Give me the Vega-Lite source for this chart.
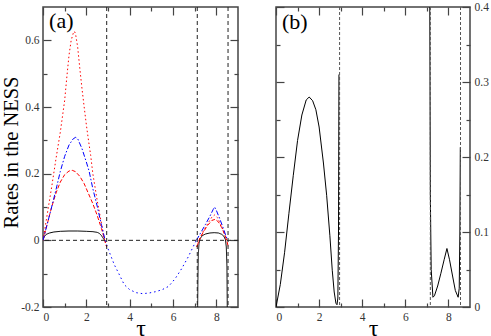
{
  "$schema": "https://vega.github.io/schema/vega-lite/v6.json",
  "padding": {"left": 0, "top": 0, "right": 0, "bottom": 0},
  "spacing": 34,
  "config": {
    "font": "Liberation Serif, Times New Roman, serif",
    "view": {"stroke": "#444", "strokeWidth": 1.5},
    "axis": {"domain": false, "grid": false, "labelFont": "Liberation Serif, Times New Roman, serif", "labelFontSize": 11.5, "labelColor": "#333", "tickColor": "#444", "tickWidth": 1.2, "titleFont": "Liberation Serif, Times New Roman, serif", "titleFontWeight": "normal", "titleColor": "#000"}
  },
  "datasets": {
    "a": [
      {"s": "black", "g": "k1", "t": 0, "v": 0}, {"s": "black", "g": "k1", "t": 0.05, "v": 0.01}, {"s": "black", "g": "k1", "t": 0.15, "v": 0.018}, {"s": "black", "g": "k1", "t": 0.3, "v": 0.022}, {"s": "black", "g": "k1", "t": 0.5, "v": 0.025}, {"s": "black", "g": "k1", "t": 0.8, "v": 0.027}, {"s": "black", "g": "k1", "t": 1.2, "v": 0.028}, {"s": "black", "g": "k1", "t": 1.6, "v": 0.028}, {"s": "black", "g": "k1", "t": 2.0, "v": 0.027}, {"s": "black", "g": "k1", "t": 2.3, "v": 0.026}, {"s": "black", "g": "k1", "t": 2.5, "v": 0.024}, {"s": "black", "g": "k1", "t": 2.6, "v": 0.021}, {"s": "black", "g": "k1", "t": 2.7, "v": 0.014}, {"s": "black", "g": "k1", "t": 2.78, "v": 0.006}, {"s": "black", "g": "k1", "t": 2.85, "v": 0},
      {"s": "black", "g": "k2", "t": 7.13, "v": -0.25}, {"s": "black", "g": "k2", "t": 7.15, "v": -0.12}, {"s": "black", "g": "k2", "t": 7.17, "v": -0.04}, {"s": "black", "g": "k2", "t": 7.2, "v": -0.01}, {"s": "black", "g": "k2", "t": 7.25, "v": 0.005}, {"s": "black", "g": "k2", "t": 7.35, "v": 0.014}, {"s": "black", "g": "k2", "t": 7.5, "v": 0.019}, {"s": "black", "g": "k2", "t": 7.7, "v": 0.022}, {"s": "black", "g": "k2", "t": 7.9, "v": 0.023}, {"s": "black", "g": "k2", "t": 8.1, "v": 0.022}, {"s": "black", "g": "k2", "t": 8.25, "v": 0.018}, {"s": "black", "g": "k2", "t": 8.35, "v": 0.012}, {"s": "black", "g": "k2", "t": 8.42, "v": 0.002}, {"s": "black", "g": "k2", "t": 8.46, "v": -0.02}, {"s": "black", "g": "k2", "t": 8.49, "v": -0.08}, {"s": "black", "g": "k2", "t": 8.51, "v": -0.25},
      {"s": "reddot", "g": "r1", "t": 0, "v": 0}, {"s": "reddot", "g": "r1", "t": 0.2, "v": 0.08}, {"s": "reddot", "g": "r1", "t": 0.4, "v": 0.16}, {"s": "reddot", "g": "r1", "t": 0.6, "v": 0.245}, {"s": "reddot", "g": "r1", "t": 0.8, "v": 0.325}, {"s": "reddot", "g": "r1", "t": 1.0, "v": 0.42}, {"s": "reddot", "g": "r1", "t": 1.1, "v": 0.49}, {"s": "reddot", "g": "r1", "t": 1.2, "v": 0.555}, {"s": "reddot", "g": "r1", "t": 1.3, "v": 0.6}, {"s": "reddot", "g": "r1", "t": 1.4, "v": 0.622}, {"s": "reddot", "g": "r1", "t": 1.45, "v": 0.627}, {"s": "reddot", "g": "r1", "t": 1.5, "v": 0.62}, {"s": "reddot", "g": "r1", "t": 1.6, "v": 0.58}, {"s": "reddot", "g": "r1", "t": 1.7, "v": 0.515}, {"s": "reddot", "g": "r1", "t": 1.8, "v": 0.455}, {"s": "reddot", "g": "r1", "t": 1.9, "v": 0.4}, {"s": "reddot", "g": "r1", "t": 2.0, "v": 0.347}, {"s": "reddot", "g": "r1", "t": 2.1, "v": 0.3}, {"s": "reddot", "g": "r1", "t": 2.2, "v": 0.255}, {"s": "reddot", "g": "r1", "t": 2.3, "v": 0.2}, {"s": "reddot", "g": "r1", "t": 2.4, "v": 0.16}, {"s": "reddot", "g": "r1", "t": 2.5, "v": 0.12}, {"s": "reddot", "g": "r1", "t": 2.6, "v": 0.085}, {"s": "reddot", "g": "r1", "t": 2.7, "v": 0.05}, {"s": "reddot", "g": "r1", "t": 2.8, "v": 0.015}, {"s": "reddot", "g": "r1", "t": 2.87, "v": -0.005}, {"s": "reddot", "g": "r1", "t": 2.94, "v": -0.02},
      {"s": "reddot", "g": "r2", "t": 7.1, "v": -0.02}, {"s": "reddot", "g": "r2", "t": 7.2, "v": 0}, {"s": "reddot", "g": "r2", "t": 7.4, "v": 0.028}, {"s": "reddot", "g": "r2", "t": 7.6, "v": 0.05}, {"s": "reddot", "g": "r2", "t": 7.8, "v": 0.07}, {"s": "reddot", "g": "r2", "t": 7.92, "v": 0.076}, {"s": "reddot", "g": "r2", "t": 8.05, "v": 0.068}, {"s": "reddot", "g": "r2", "t": 8.2, "v": 0.048}, {"s": "reddot", "g": "r2", "t": 8.35, "v": 0.025}, {"s": "reddot", "g": "r2", "t": 8.5, "v": -0.005}, {"s": "reddot", "g": "r2", "t": 8.55, "v": -0.02},
      {"s": "reddash", "g": "d1", "t": 0, "v": 0}, {"s": "reddash", "g": "d1", "t": 0.2, "v": 0.05}, {"s": "reddash", "g": "d1", "t": 0.4, "v": 0.1}, {"s": "reddash", "g": "d1", "t": 0.6, "v": 0.142}, {"s": "reddash", "g": "d1", "t": 0.8, "v": 0.175}, {"s": "reddash", "g": "d1", "t": 1.0, "v": 0.197}, {"s": "reddash", "g": "d1", "t": 1.2, "v": 0.208}, {"s": "reddash", "g": "d1", "t": 1.35, "v": 0.21}, {"s": "reddash", "g": "d1", "t": 1.5, "v": 0.206}, {"s": "reddash", "g": "d1", "t": 1.7, "v": 0.192}, {"s": "reddash", "g": "d1", "t": 1.9, "v": 0.17}, {"s": "reddash", "g": "d1", "t": 2.1, "v": 0.14}, {"s": "reddash", "g": "d1", "t": 2.3, "v": 0.11}, {"s": "reddash", "g": "d1", "t": 2.5, "v": 0.075}, {"s": "reddash", "g": "d1", "t": 2.7, "v": 0.035}, {"s": "reddash", "g": "d1", "t": 2.85, "v": 0}, {"s": "reddash", "g": "d1", "t": 2.94, "v": -0.02},
      {"s": "reddash", "g": "d2", "t": 7.1, "v": -0.02}, {"s": "reddash", "g": "d2", "t": 7.2, "v": 0}, {"s": "reddash", "g": "d2", "t": 7.4, "v": 0.025}, {"s": "reddash", "g": "d2", "t": 7.6, "v": 0.045}, {"s": "reddash", "g": "d2", "t": 7.8, "v": 0.06}, {"s": "reddash", "g": "d2", "t": 7.95, "v": 0.063}, {"s": "reddash", "g": "d2", "t": 8.1, "v": 0.055}, {"s": "reddash", "g": "d2", "t": 8.25, "v": 0.038}, {"s": "reddash", "g": "d2", "t": 8.4, "v": 0.015}, {"s": "reddash", "g": "d2", "t": 8.5, "v": -0.005}, {"s": "reddash", "g": "d2", "t": 8.55, "v": -0.02},
      {"s": "bluedd", "g": "b1", "t": 0, "v": 0}, {"s": "bluedd", "g": "b1", "t": 0.2, "v": 0.05}, {"s": "bluedd", "g": "b1", "t": 0.4, "v": 0.1}, {"s": "bluedd", "g": "b1", "t": 0.6, "v": 0.152}, {"s": "bluedd", "g": "b1", "t": 0.8, "v": 0.207}, {"s": "bluedd", "g": "b1", "t": 1.0, "v": 0.252}, {"s": "bluedd", "g": "b1", "t": 1.2, "v": 0.286}, {"s": "bluedd", "g": "b1", "t": 1.4, "v": 0.305}, {"s": "bluedd", "g": "b1", "t": 1.51, "v": 0.309}, {"s": "bluedd", "g": "b1", "t": 1.6, "v": 0.305}, {"s": "bluedd", "g": "b1", "t": 1.8, "v": 0.275}, {"s": "bluedd", "g": "b1", "t": 2.0, "v": 0.235}, {"s": "bluedd", "g": "b1", "t": 2.13, "v": 0.207}, {"s": "bluedd", "g": "b1", "t": 2.3, "v": 0.155}, {"s": "bluedd", "g": "b1", "t": 2.51, "v": 0.1}, {"s": "bluedd", "g": "b1", "t": 2.7, "v": 0.045}, {"s": "bluedd", "g": "b1", "t": 2.87, "v": 0},
      {"s": "bluedd", "g": "b2", "t": 7.08, "v": 0}, {"s": "bluedd", "g": "b2", "t": 7.3, "v": 0.025}, {"s": "bluedd", "g": "b2", "t": 7.5, "v": 0.048}, {"s": "bluedd", "g": "b2", "t": 7.7, "v": 0.072}, {"s": "bluedd", "g": "b2", "t": 7.85, "v": 0.092}, {"s": "bluedd", "g": "b2", "t": 7.92, "v": 0.1}, {"s": "bluedd", "g": "b2", "t": 8.0, "v": 0.09}, {"s": "bluedd", "g": "b2", "t": 8.15, "v": 0.066}, {"s": "bluedd", "g": "b2", "t": 8.3, "v": 0.04}, {"s": "bluedd", "g": "b2", "t": 8.45, "v": 0.012}, {"s": "bluedd", "g": "b2", "t": 8.53, "v": 0},
      {"s": "bluedot", "g": "o1", "t": 2.87, "v": 0}, {"s": "bluedot", "g": "o1", "t": 3.0, "v": -0.025}, {"s": "bluedot", "g": "o1", "t": 3.15, "v": -0.05}, {"s": "bluedot", "g": "o1", "t": 3.29, "v": -0.073}, {"s": "bluedot", "g": "o1", "t": 3.5, "v": -0.1}, {"s": "bluedot", "g": "o1", "t": 3.75, "v": -0.133}, {"s": "bluedot", "g": "o1", "t": 4.0, "v": -0.148}, {"s": "bluedot", "g": "o1", "t": 4.3, "v": -0.157}, {"s": "bluedot", "g": "o1", "t": 4.6, "v": -0.16}, {"s": "bluedot", "g": "o1", "t": 4.9, "v": -0.158}, {"s": "bluedot", "g": "o1", "t": 5.2, "v": -0.154}, {"s": "bluedot", "g": "o1", "t": 5.5, "v": -0.148}, {"s": "bluedot", "g": "o1", "t": 5.8, "v": -0.138}, {"s": "bluedot", "g": "o1", "t": 6.1, "v": -0.115}, {"s": "bluedot", "g": "o1", "t": 6.4, "v": -0.085}, {"s": "bluedot", "g": "o1", "t": 6.7, "v": -0.05}, {"s": "bluedot", "g": "o1", "t": 7.0, "v": -0.01}, {"s": "bluedot", "g": "o1", "t": 7.08, "v": 0}
    ],
    "b": [
      {"g": "k1", "t": 0, "v": 0}, {"g": "k1", "t": 0.2, "v": 0.03}, {"g": "k1", "t": 0.4, "v": 0.073}, {"g": "k1", "t": 0.6, "v": 0.125}, {"g": "k1", "t": 0.8, "v": 0.175}, {"g": "k1", "t": 1.0, "v": 0.222}, {"g": "k1", "t": 1.2, "v": 0.256}, {"g": "k1", "t": 1.4, "v": 0.276}, {"g": "k1", "t": 1.54, "v": 0.28}, {"g": "k1", "t": 1.7, "v": 0.275}, {"g": "k1", "t": 1.85, "v": 0.263}, {"g": "k1", "t": 2.0, "v": 0.24}, {"g": "k1", "t": 2.2, "v": 0.192}, {"g": "k1", "t": 2.35, "v": 0.149}, {"g": "k1", "t": 2.5, "v": 0.095}, {"g": "k1", "t": 2.61, "v": 0.049}, {"g": "k1", "t": 2.7, "v": 0.02}, {"g": "k1", "t": 2.78, "v": 0.005}, {"g": "k1", "t": 2.83, "v": 0.003}, {"g": "k1", "t": 2.87, "v": 0.012}, {"g": "k1", "t": 2.9, "v": 0.1}, {"g": "k1", "t": 2.92, "v": 0.31},
      {"g": "k2", "t": 7.13, "v": 0.45}, {"g": "k2", "t": 7.16, "v": 0.15}, {"g": "k2", "t": 7.2, "v": 0.05}, {"g": "k2", "t": 7.28, "v": 0.013}, {"g": "k2", "t": 7.35, "v": 0.015}, {"g": "k2", "t": 7.5, "v": 0.028}, {"g": "k2", "t": 7.65, "v": 0.045}, {"g": "k2", "t": 7.8, "v": 0.063}, {"g": "k2", "t": 7.93, "v": 0.078}, {"g": "k2", "t": 8.05, "v": 0.063}, {"g": "k2", "t": 8.2, "v": 0.04}, {"g": "k2", "t": 8.32, "v": 0.022}, {"g": "k2", "t": 8.45, "v": 0.013}, {"g": "k2", "t": 8.5, "v": 0.025}, {"g": "k2", "t": 8.53, "v": 0.1}, {"g": "k2", "t": 8.55, "v": 0.213}
    ],
    "va": [{"t": 2.94}, {"t": 7.12}, {"t": 8.54}],
    "vb": [{"t": 2.95}, {"t": 7.16}, {"t": 8.56}]
  },
  "hconcat": [
    {
      "width": 195,
      "height": 300,
      "resolve": {"axis": {"x": "independent", "y": "independent"}},
      "layer": [
        {
          "data": {"name": "a"},
          "mark": {"type": "line", "strokeWidth": 1, "clip": true},
          "encoding": {
            "x": {"field": "t", "type": "quantitative", "scale": {"domain": [0, 9], "nice": false},
                  "axis": {"orient": "bottom", "values": [0, 1, 2, 3, 4, 5, 6, 7, 8], "labelExpr": "datum.value % 2 == 0 ? datum.label : ''", "tickSize": {"condition": {"test": "datum.value % 2 == 0", "value": -8}, "value": -4}, "labelPadding": 12, "title": "τ", "titleFontSize": 24, "titleY": 28, "titleBaseline": "alphabetic"}},
            "y": {"field": "v", "type": "quantitative", "scale": {"domain": [-0.2, 0.7], "nice": false},
                  "axis": {"orient": "left", "values": [-0.2, -0.1, 0, 0.1, 0.2, 0.3, 0.4, 0.5, 0.6], "labelExpr": "abs(round(datum.value*10)) % 2 == 0 ? (datum.value == 0 ? '0' : (datum.value < 0 ? '-' : '') + format(abs(datum.value), '.1f')) : ''", "tickSize": {"condition": {"test": "abs(round(datum.value*10)) % 2 == 0", "value": -8}, "value": -4}, "labelPadding": 12, "title": "Rates in the NESS", "titleFontSize": 20.5, "titleX": -25.5, "titleY": 145, "titleBaseline": "alphabetic", "titleAngle": -90}},
            "color": {"field": "s", "type": "nominal", "legend": null, "scale": {"domain": ["black", "reddot", "reddash", "bluedd", "bluedot"], "range": ["#000000", "#ff0000", "#ff0000", "#0000ff", "#0000ff"]}},
            "strokeDash": {"field": "s", "type": "nominal", "legend": null, "scale": {"domain": ["black", "reddot", "reddash", "bluedd", "bluedot"], "range": [[1, 0], [1.5, 2.5], [4, 2], [5, 2, 1.5, 2], [1.5, 3]]}},
            "detail": {"field": "g"}
          }
        },
        {
          "data": {"name": "va"},
          "mark": {"type": "rule", "color": "#222", "strokeWidth": 1, "strokeDash": [4, 3]},
          "encoding": {
            "x": {"field": "t", "type": "quantitative", "axis": {"orient": "top", "values": [0, 1, 2, 3, 4, 5, 6, 7, 8], "labels": false, "title": null, "tickSize": {"condition": {"test": "datum.value % 2 == 0", "value": -8}, "value": -4}}}
          }
        },
        {
          "data": {"values": [{"v": 0}]},
          "mark": {"type": "rule", "color": "#222", "strokeWidth": 1, "strokeDash": [4, 3]},
          "encoding": {
            "y": {"field": "v", "type": "quantitative", "axis": {"orient": "right", "values": [-0.2, -0.1, 0, 0.1, 0.2, 0.3, 0.4, 0.5, 0.6], "labels": false, "title": null, "tickSize": {"condition": {"test": "abs(round(datum.value*10)) % 2 == 0", "value": -8}, "value": -4}}}
          }
        },
        {
          "data": {"values": [{"t": 0.28, "v": 0.637, "lab": "(a)"}]},
          "mark": {"type": "text", "align": "left", "baseline": "alphabetic", "fontSize": 22, "font": "Liberation Serif, Times New Roman, serif", "color": "#000"},
          "encoding": {
            "x": {"field": "t", "type": "quantitative", "axis": null},
            "y": {"field": "v", "type": "quantitative", "axis": null},
            "text": {"field": "lab"}
          }
        }
      ]
    },
    {
      "width": 194,
      "height": 300,
      "resolve": {"axis": {"x": "independent", "y": "independent"}},
      "layer": [
        {
          "data": {"name": "b"},
          "mark": {"type": "line", "strokeWidth": 1, "clip": true, "color": "#000"},
          "encoding": {
            "x": {"field": "t", "type": "quantitative", "scale": {"domain": [0, 9], "nice": false},
                  "axis": {"orient": "bottom", "values": [0, 1, 2, 3, 4, 5, 6, 7, 8], "labelExpr": "datum.value % 2 == 0 ? datum.label : ''", "tickSize": {"condition": {"test": "datum.value % 2 == 0", "value": -8}, "value": -4}, "labelPadding": 12, "title": "τ", "titleFontSize": 24, "titleY": 28, "titleBaseline": "alphabetic"}},
            "y": {"field": "v", "type": "quantitative", "scale": {"domain": [0, 0.4], "nice": false},
                  "axis": {"orient": "right", "values": [0, 0.05, 0.1, 0.15, 0.2, 0.25, 0.3, 0.35, 0.4], "labelExpr": "round(datum.value*20) % 2 == 0 ? (datum.value == 0 ? '0' : format(datum.value, '.1f')) : ''", "tickSize": {"condition": {"test": "round(datum.value*20) % 2 == 0", "value": -8}, "value": -4}, "labelPadding": 12, "title": null}},
            "detail": {"field": "g"}
          }
        },
        {
          "data": {"name": "vb"},
          "mark": {"type": "rule", "color": "#555", "strokeWidth": 1, "strokeDash": [3, 2]},
          "encoding": {
            "x": {"field": "t", "type": "quantitative", "axis": {"orient": "top", "values": [0, 1, 2, 3, 4, 5, 6, 7, 8], "labels": false, "title": null, "tickSize": {"condition": {"test": "datum.value % 2 == 0", "value": -8}, "value": -4}}}
          }
        },
        {
          "data": {"values": [{"t": 0.28, "v": 0.371, "lab": "(b)"}]},
          "mark": {"type": "text", "align": "left", "baseline": "alphabetic", "fontSize": 22, "font": "Liberation Serif, Times New Roman, serif", "color": "#000"},
          "encoding": {
            "x": {"field": "t", "type": "quantitative", "axis": null},
            "y": {"field": "v", "type": "quantitative", "axis": {"orient": "left", "values": [0, 0.05, 0.1, 0.15, 0.2, 0.25, 0.3, 0.35, 0.4], "labels": false, "title": null, "tickSize": {"condition": {"test": "round(datum.value*20) % 2 == 0", "value": -8}, "value": -4}}},
            "text": {"field": "lab"}
          }
        }
      ]
    }
  ]
}
